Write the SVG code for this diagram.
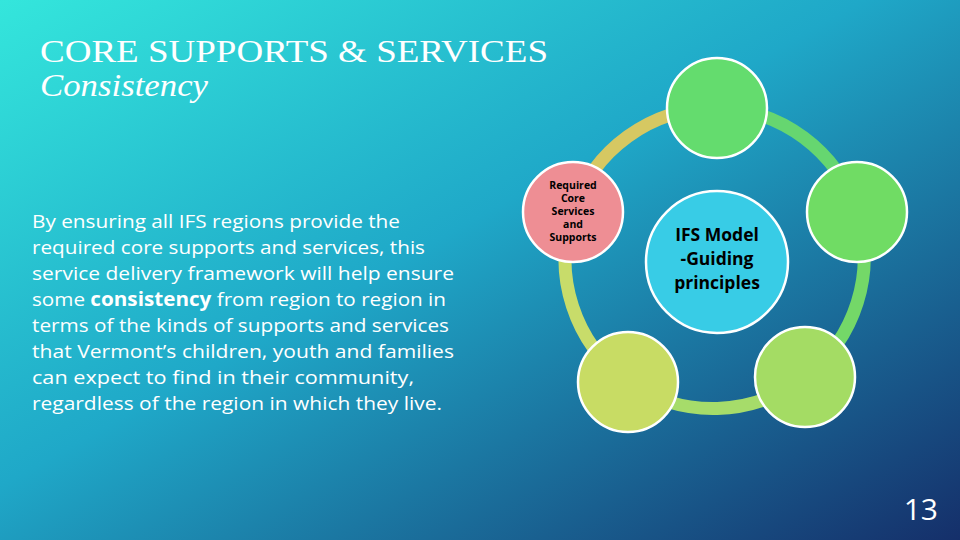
<svg xmlns="http://www.w3.org/2000/svg" width="960" height="540" viewBox="0 0 960 540">
<defs>
<linearGradient id="bg" x1="0" y1="0" x2="1" y2="1">
<stop offset="0" stop-color="#34e6dc"/>
<stop offset="0.45" stop-color="#1fa8c8"/>
<stop offset="1" stop-color="#152f6a"/>
</linearGradient>
<style>
.n{stroke:#fff;stroke-width:2.5}
.t{font-family:"Open Sans","DejaVu Sans",sans-serif;fill:#000;text-anchor:middle;font-weight:bold}
.seg{fill:none;stroke-width:13}
</style>
</defs>
<rect width="960" height="540" fill="url(#bg)"/>
<text x="40" y="62" font-family="Liberation Serif,serif" font-size="32" fill="#fff" textLength="508" lengthAdjust="spacingAndGlyphs">CORE SUPPORTS &amp; SERVICES</text>
<text x="40" y="96" font-family="Liberation Serif,serif" font-size="32" font-style="italic" fill="#fff" textLength="168" lengthAdjust="spacingAndGlyphs">Consistency</text>
<g font-family="Open Sans,DejaVu Sans,sans-serif" font-size="19" fill="#fff">
<text x="32" y="228" textLength="368" lengthAdjust="spacingAndGlyphs">By ensuring all IFS regions provide the</text>
<text x="32" y="254" textLength="393" lengthAdjust="spacingAndGlyphs">required core supports and services, this</text>
<text x="32" y="280" textLength="422" lengthAdjust="spacingAndGlyphs">service delivery framework will help ensure</text>
<text x="32" y="306" textLength="414" lengthAdjust="spacingAndGlyphs">some <tspan font-weight="bold">consistency</tspan> from region to region in</text>
<text x="32" y="332" textLength="417" lengthAdjust="spacingAndGlyphs">terms of the kinds of supports and services</text>
<text x="32" y="358" textLength="422" lengthAdjust="spacingAndGlyphs">that Vermont’s children, youth and families</text>
<text x="32" y="384" textLength="382" lengthAdjust="spacingAndGlyphs">can expect to find in their community,</text>
<text x="32" y="410" textLength="410" lengthAdjust="spacingAndGlyphs">regardless of the region in which they live.</text>
</g>
<g id="connectors">
<path class="seg" stroke="#d6c862" d="M573 212 A150 150 0 0 1 717 108"/>
<path class="seg" stroke="#66d670" d="M717 108 A150 150 0 0 1 857 212"/>
<path class="seg" stroke="#74d868" d="M857 212 A150 150 0 0 1 805 377"/>
<path class="seg" stroke="#a6dc6a" d="M805 377 A150 150 0 0 1 628 382"/>
<path class="seg" stroke="#c8dc6a" d="M628 382 A150 150 0 0 1 573 212"/>
</g>
<g id="top"><circle class="n" cx="717" cy="108" r="50" fill="#64dc6e"/></g>
<g id="right"><circle class="n" cx="857" cy="212" r="50" fill="#70dc64"/></g>
<g id="bottomright"><circle class="n" cx="805" cy="377" r="50" fill="#a4dc64"/></g>
<g id="bottomleft"><circle class="n" cx="628" cy="382" r="50" fill="#c8dc64"/></g>
<g id="required"><circle class="n" cx="573" cy="212" r="50" fill="#ee8e94"/>
<text class="t" font-size="10.5"><tspan x="573" y="189">Required</tspan><tspan x="573" y="202">Core</tspan><tspan x="573" y="215">Services</tspan><tspan x="573" y="228">and</tspan><tspan x="573" y="241">Supports</tspan></text></g>
<g id="center"><circle class="n" cx="717" cy="262" r="71" fill="#38cce6"/>
<text class="t" font-size="17.5" font-weight="600"><tspan x="717" y="241">IFS Model</tspan><tspan x="717" y="265">-Guiding</tspan><tspan x="717" y="289">principles</tspan></text></g>
<text x="938" y="520" font-family="Open Sans,DejaVu Sans,sans-serif" font-size="30" fill="#fff" text-anchor="end">13</text>
</svg>
